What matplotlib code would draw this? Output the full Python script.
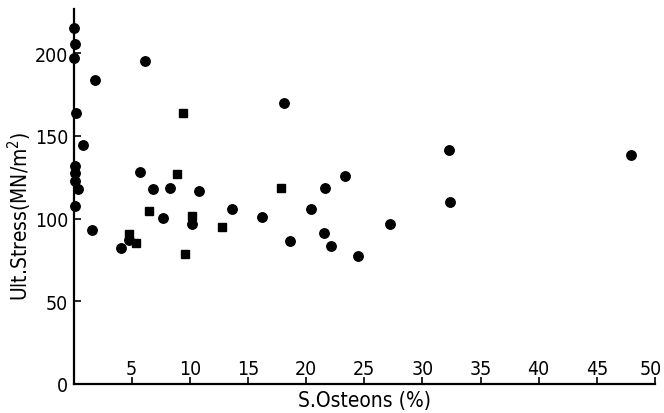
import matplotlib
matplotlib.use("Agg")
import matplotlib.pyplot as plt
import matplotlib.transforms as mtransforms

# circles (x = % secondary osteons, y = ultimate stress)
circle_x = [0.0, 0.1, 0.0, 0.2, 0.8, 0.1, 0.1, 0.1, 0.4, 0.1,
            1.8, 6.1, 5.7, 6.8, 8.3, 10.8, 7.7, 10.2, 1.6, 4.8,
            4.1, 13.6, 16.2, 18.1, 18.6, 20.4, 21.6, 21.5, 22.1, 23.3,
            24.5, 27.2, 32.3, 32.4, 47.9]
circle_y = [215, 205.6, 197, 163.8, 144.3, 131.6, 127.6, 122.9, 117.9, 107.8,
            184, 195, 128.3, 117.7, 118.7, 116.7, 100.4, 96.7, 93.1, 87.1,
            82.4, 106, 100.8, 169.9, 86.5, 105.8, 118.4, 91.4, 83.6, 126,
            77.3, 96.7, 141.5, 110.2, 138.3]

# squares
square_x = [9.4, 8.9, 6.5, 10.2, 4.8, 5.4, 9.6, 12.8, 17.8]
square_y = [163.7, 127, 104.4, 101.8, 90.5, 85.1, 78.4, 94.9, 118.3]

x_ticks = [5, 10, 15, 20, 25, 30, 35, 40, 45, 50]
y_ticks = [0, 50, 100, 150, 200]

plt.rcParams["font.family"] = "DejaVu Sans"
plt.rcParams["font.stretch"] = "condensed"

W, H = 664, 414
fig = plt.figure(figsize=(W / 100, H / 100), dpi=100)
ax = fig.add_axes([73.6 / W, 29 / H, (655 - 73.6) / W, 375 / H])

ax.plot(circle_x, circle_y, "o", color="black", ms=6.8, clip_on=False)
ax.plot(square_x, square_y, "s", color="black", ms=5.6, clip_on=False)

ax.set_xlim(0, 50)
ax.set_ylim(0, 226.7)
for s in ("top", "right"):
    ax.spines[s].set_visible(False)
for s in ("left", "bottom"):
    ax.spines[s].set_linewidth(1.6)

ax.set_xticks(x_ticks)
ax.set_yticks(y_ticks)
ax.tick_params(axis="both", direction="in", length=5, width=1.2,
               labelsize=14, colors="black")
ax.tick_params(axis="y", pad=4)
ax.tick_params(axis="x", pad=-4)
for lab in ax.get_xticklabels():
    lab.set_va("bottom")
# last x label sits a little left of its tick, as in the original
last = ax.get_xticklabels()[-1]
last.set_transform(last.get_transform() +
                   mtransforms.ScaledTranslation(-3 / 72, 0, fig.dpi_scale_trans))

ax.set_xlabel("S.Osteons (%)", fontsize=15)
ax.set_ylabel("Ult.Stress(MN/m$^2$)", fontsize=15)
ax.xaxis.set_label_coords(0.5, -0.016)
ax.yaxis.set_label_coords(-0.068, 0.45)

fig.savefig("out.png", dpi=100)
